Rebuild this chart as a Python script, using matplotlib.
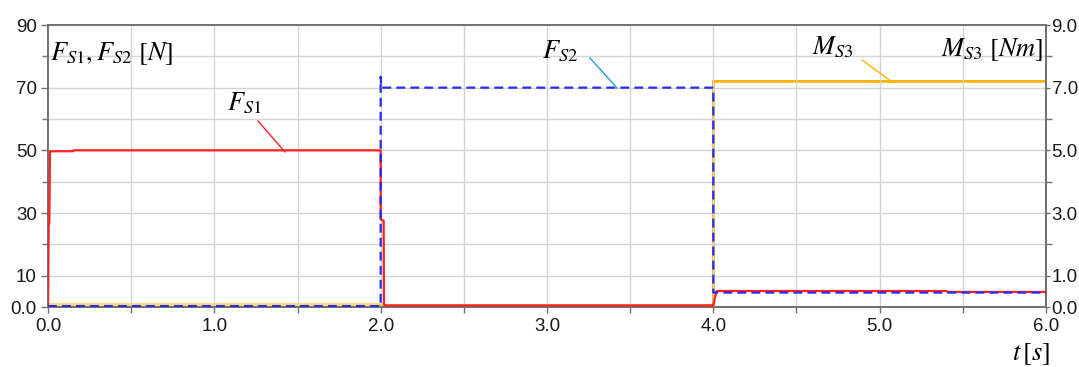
import matplotlib
matplotlib.use("Agg")
import matplotlib.pyplot as plt

plt.rcParams['font.family'] = ['Liberation Sans', 'DejaVu Sans']
plt.rcParams['mathtext.fontset'] = 'stix'

# ---- data ----
t_fs1 = [0.0, 0.004, 0.008, 0.012, 0.15, 0.155, 2.0, 2.0, 2.018, 2.02, 2.03, 4.0, 4.01, 4.02, 5.4, 5.41, 6.0]
fs1 = [0.0, 26.0, 27.0, 49.7, 49.7, 50.0, 50.0, 28.0, 27.5, 0.8, 0.5, 0.5, 3.0, 5.1, 5.1, 4.8, 4.8]

t_fs2 = [0.0, 2.0, 2.0, 2.004, 4.0, 4.0, 6.0]
fs2 = [0.3, 0.3, 73.5, 70.0, 70.0, 4.6, 4.6]

t_ms3_a = [0.0, 2.0]
ms3_a = [0.05, 0.05]
t_ms3_b = [2.0, 2.02, 4.0, 4.0, 6.0]
ms3_b = [0.05, 0.04, 0.04, 7.2, 7.2]

x_ticks = [0.0, 1.0, 2.0, 3.0, 4.0, 5.0, 6.0]
x_labels = ['0.0', '1.0', '2.0', '3.0', '4.0', '5.0', '6.0']
left_ticks = [0, 10, 30, 50, 70, 90]
left_labels = ['0.0', '10', '30', '50', '70', '90']
right_ticks = [0, 1, 3, 5, 7, 9]
right_labels = ['0.0', '1.0', '3.0', '5.0', '7.0', '9.0']

fig = plt.figure(figsize=(10.79, 3.67), dpi=100)
ax = fig.add_axes([48/1079, 60/367, 998/1079, 282/367])
ax2 = ax.twinx()

grid_c = '#d4d4d4'
spine_c = '#707070'

ax.set_xlim(0, 6)
ax.set_ylim(0, 90)
ax2.set_ylim(0, 9)

ax.set_xticks(x_ticks)
ax.set_xticklabels(x_labels)
ax.set_xticks([0.5, 1.5, 2.5, 3.5, 4.5, 5.5], minor=True)
ax.set_yticks(left_ticks)
ax.set_yticklabels(left_labels)
ax.set_yticks([20, 40, 60, 80], minor=True)
ax2.set_yticks(right_ticks)
ax2.set_yticklabels(right_labels)
ax2.set_yticks([2, 4, 6, 8], minor=True)

ax.grid(True, which='both', color=grid_c, lw=1.0)
ax.set_axisbelow(True)

for a in (ax, ax2):
    for s in a.spines.values():
        s.set_color(spine_c)
        s.set_linewidth(1.3)
    a.tick_params(which='both', length=4, width=1, color=spine_c, labelsize=13.5, pad=2, labelcolor='#1a1a1a')
ax.tick_params(axis='y', length=5, pad=3)
ax2.tick_params(axis='y', length=3, pad=1)
ax.tick_params(axis='x', pad=4)

ax2.plot(t_ms3_a, ms3_a, color='#FFD060', lw=3.0, alpha=0.8, zorder=2)
ax2.plot(t_ms3_b, ms3_b, color='#FFB300', lw=2.0, zorder=2)
ax.plot(t_fs1, fs1, color='#FF2020', lw=1.6, zorder=3)
ax.plot(t_fs2, fs2, color='#2A2AF0', lw=1.6, dashes=(4, 2.3), zorder=4)
ax.set_zorder(ax2.get_zorder() + 1)
ax.patch.set_visible(False)

fs = 19
fig.text(50/1079, 1 - 54/367, r'$F_{S1}, F_{S2}\ [N]$', fontsize=fs, va='center', ha='left')
fig.text(227/1079, 1 - 103/367, r'$F_{S1}$', fontsize=fs, va='center', ha='left')
fig.text(542/1079, 1 - 51/367, r'$F_{S2}$', fontsize=fs, va='center', ha='left')
fig.text(812/1079, 1 - 47/367, r'$M_{S3}$', fontsize=fs, va='center', ha='left')
fig.text(1043/1079, 1 - 50/367, r'$M_{S3}\ [Nm]$', fontsize=fs, va='center', ha='right')
fig.text(1050/1079, 1 - 354/367, r'$t\,[s]$', fontsize=fs, va='center', ha='right')

# leader lines (figure pixel coords)
def leader(x0, y0, x1, y1, c):
    fig.add_artist(plt.Line2D([x0/1079, x1/1079], [1 - y0/367, 1 - y1/367], color=c, lw=1.0, transform=fig.transFigure))

leader(258, 121, 285, 152, '#FF2020')
leader(590, 58, 617, 88, '#1E9FD8')
leader(862, 60, 892, 82, '#FFB300')

fig.savefig('out.png', dpi=100)
